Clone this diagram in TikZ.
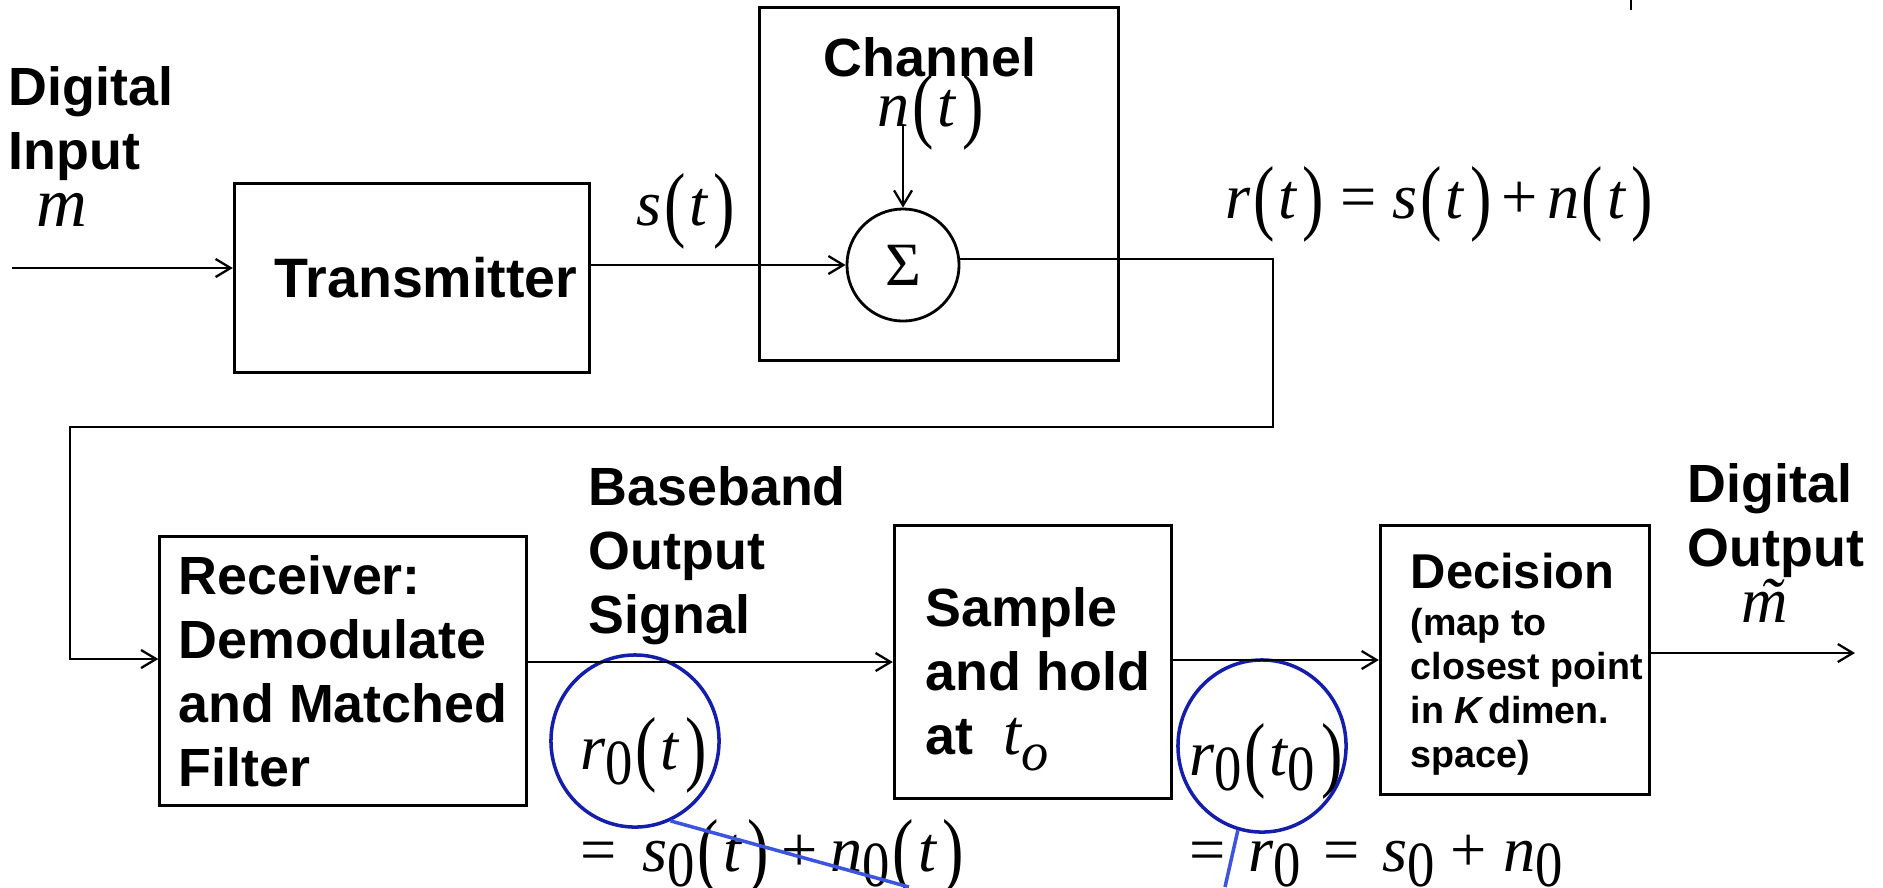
\documentclass[tikz,border=0pt]{standalone}
\usepackage{fontspec}
\usepackage{graphicx}
\usetikzlibrary{arrows.meta,shapes.geometric}
\newfontfamily\arl{Liberation Sans}
\newfontfamily\tms{Liberation Serif}
\definecolor{ringblue}{RGB}{20,30,170}
\definecolor{lineblue}{RGB}{60,85,220}
\newcommand{\mv}[1]{{\tms\mdseries\itshape #1}}
\newcommand{\lp}{{\tms\mdseries\kern0.04em\raisebox{-0.1em}{\scalebox{1}[1.3]{(}}\kern0.06em}}
\newcommand{\rp}{{\tms\mdseries\kern0.1em\raisebox{-0.1em}{\scalebox{1}[1.3]{)}}}}
\newcommand{\zs}{\raisebox{-0.24em}{\scalebox{0.85}[1]{\tms\mdseries 0}}}

\begin{document}
\begin{tikzpicture}[
    x=0.01cm, y=-0.01cm,
    box/.style={draw, line width=0.9pt, inner sep=0, align=left, font=\arl\bfseries\fontsize{15.3}{18.2}\selectfont},
    lbl/.style={inner sep=0, align=left, font=\arl\bfseries\fontsize{15.3}{18.2}\selectfont},
    eq/.style={inner sep=0, font=\tms\fontsize{18.3}{22}\selectfont},
    arr/.style={-{Straight Barb[length=1.5mm,width=1.8mm]}, line width=0.65pt},
    ring/.style={ellipse, draw=ringblue, line width=1pt, minimum width=1.68cm, minimum height=1.72cm, inner sep=0},
    pointer/.style={draw=lineblue, line width=1pt}
]
\useasboundingbox (0,0) rectangle (1883,887);

\node[lbl, anchor=north west] (din) at (8,66) {Digital\\Input};
\node[eq, anchor=base west, font=\tms\fontsize{20}{24}\selectfont] (msym) at (36,226) {\mv{m}};
\node[box, minimum width=3.55cm, minimum height=1.89cm, font=\arl\bfseries\fontsize{15.8}{18.2}\selectfont] (xmit) at (412,278) {\hspace*{0.28cm}Transmitter};
\node[draw, line width=0.9pt, minimum width=3.58cm, minimum height=3.53cm] (chan) at (939,184) {};
\node[lbl, anchor=base west] (chanlbl) at (823,76) {Channel};
\node[eq, anchor=base west] (nt) at (877,126) {\mv{n}\lp\mv{t}\rp};
\node[circle, draw, line width=0.8pt, minimum size=1.12cm, inner sep=0, font=\tms\fontsize{17.5}{20}\selectfont] (sum) at (903,265) {Σ};
\node[eq, anchor=base west] (st) at (636,225) {\mv{s}\lp\mv{t}\rp};
\node[eq, anchor=base west] (rt) at (1225,218) {\mv{r}\lp\mv{t}\rp\kern0.25em=\kern0.25em\mv{s}\lp\mv{t}\rp\kern0.15em+\kern0.15em\mv{n}\lp\mv{t}\rp};

\node[box, minimum width=3.66cm, minimum height=2.69cm] (recv) at (343,671) {Receiver:\\Demodulate\\and Matched\\Filter};
\node[lbl, anchor=north west] (bb) at (588,466) {Baseband\\Output\\Signal};
\node[box, minimum width=2.77cm, minimum height=2.73cm] (samp) at (1033,662) {};
\node[lbl, anchor=north west] (samptxt) at (925,587) {Sample\\and hold\\at\ \ \mv{\fontsize{18.3}{22}\selectfont t}\raisebox{-0.3em}{\mv{\fontsize{15.5}{18}\selectfont o}}};
\node[box, minimum width=2.69cm, minimum height=2.69cm] (dec) at (1515,660) {};
\node[lbl, anchor=north west, font=\arl\bfseries\fontsize{10.7}{12.5}\selectfont] (dectxt) at (1410,552) {{\fontsize{13.9}{16}\selectfont Decision}\\[1pt](map to\\closest point\\in {\itshape K}\,dimen.\\space)};
\node[lbl, anchor=north west] (dout) at (1687,463) {Digital\\Output};
\node[eq, anchor=base west] (mt) at (1741,622) {\mv{\ooalign{m\cr\hidewidth\kern0.15em\char"02DC\hidewidth\cr}}};

\node[ring] (ring1) at (635,741) {};
\node[eq, anchor=base west] (r0t) at (580,769) {\mv{r}\zs\lp\mv{t}\rp};
\node[eq, anchor=base west] (eq1) at (580,871) {=\kern0.4em\mv{s}\zs\lp\mv{t}\rp\kern0.2em+\kern0.2em\mv{n}\zs\lp\mv{t}\rp};
\node[ring] (ring2) at (1262,746) {};
\node[eq, anchor=base west] (r0t0) at (1189,775) {\mv{r}\zs\lp\mv{t}\zs\rp};
\node[eq, anchor=base west] (eq2) at (1189,871) {=\kern0.35em\mv{r}\zs\kern0.35em=\kern0.35em\mv{s}\zs\kern0.25em+\kern0.25em\mv{n}\zs};

\coordinate (src) at (12,268);
\coordinate (bendR) at (1273,427);
\coordinate (bendL) at (70,427);
\coordinate (rxin) at (70,659);
\coordinate (sink) at (1855,653);
\coordinate (tail1) at (909,887);
\coordinate (tail2) at (1225,887);

\draw[arr] (src) -- (xmit.west |- src);
\draw[arr] (xmit.east |- sum.west) -- (sum.west);
\draw[arr] (sum.north |- nt.base) -- (sum.north);
\draw[arr] (sum.6) -| (bendR) -- (bendL) -- (rxin) -- (recv.west |- rxin);
\draw[arr] (recv.east |- samp.west) -- (samp.west);
\draw[arr] (samp.east |- dec.west) -- (dec.west);
\draw[arr] (dec.east |- sink) -- (sink);
\draw[pointer] (ring1.-66) -- (tail1);
\draw[pointer] (ring2.-106) -- (tail2);
\draw[line width=0.65pt] (1631,0) -- (1631,10);
\end{tikzpicture}
\end{document}
